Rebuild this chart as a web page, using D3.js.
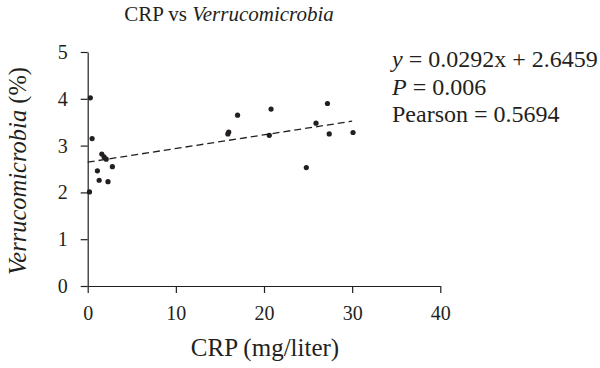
<!DOCTYPE html>
<html><head><meta charset="utf-8">
<script src="https://cdn.jsdelivr.net/npm/d3@7"></script>
<style>body{margin:0;background:#fff}svg{display:block}text{font-family:"Liberation Serif","Times New Roman",serif;fill:#231f20}</style>
</head><body><svg id="c" width="600" height="368"></svg>
<script>
const crp = [0.3, 0.5, 0.2, 1.1, 1.3, 2.3, 2.8, 1.6, 1.85, 2.1, 17.0, 16.0, 15.9, 20.8, 20.6, 24.8, 25.9, 27.2, 27.4, 30.1];
const verruco = [4.02, 3.15, 2.01, 2.46, 2.26, 2.23, 2.55, 2.82, 2.76, 2.71, 3.65, 3.29, 3.25, 3.78, 3.22, 2.53, 3.48, 3.90, 3.25, 3.28];
const xTicks = [0, 10, 20, 30, 40];
const yTicks = [0, 1, 2, 3, 4, 5];
const slope = 0.0292, intercept = 2.6459;
const fitRange = [0, 30];
const stats = ["= 0.0292x + 2.6459", "= 0.006", "Pearson = 0.5694"];

const svg = d3.select("#c");
const x = d3.scaleLinear().domain([0, 40]).range([87.7, 440.3]);
const y = d3.scaleLinear().domain([0, 5]).range([286, 52]);

const xa = svg.append("g").attr("transform", "translate(0,286)")
  .call(d3.axisBottom(x).tickValues(xTicks).tickFormat(d3.format("d")).tickSize(7).tickPadding(12).tickSizeOuter(0));
const ya = svg.append("g").attr("transform", "translate(87.7,0)")
  .call(d3.axisLeft(y).tickValues(yTicks).tickFormat(d3.format("d")).tickSize(7).tickPadding(13).tickSizeOuter(0));
[xa, ya].forEach(a => {
  a.selectAll("path,line").attr("stroke", "#231f20").attr("stroke-width", 1.2);
  a.selectAll("text").style("font-size", "20px").attr("fill", "#231f20");
});
xa.selectAll("text").attr("dy", "0.75em");

svg.append("line")
  .attr("x1", x(fitRange[0])).attr("y1", y(intercept + slope * fitRange[0]))
  .attr("x2", x(fitRange[1])).attr("y2", y(intercept + slope * fitRange[1]))
  .attr("stroke", "#231f20").attr("stroke-width", 1.3).attr("stroke-dasharray", "7,4");

svg.append("g").selectAll("circle").data(crp).join("circle")
  .attr("cx", (d) => x(d)).attr("cy", (d, i) => y(verruco[i])).attr("r", 2.6).attr("fill", "#231f20");

const t = svg.append("text").attr("x", 229).attr("y", 21).attr("text-anchor", "middle").style("font-size", "21px");
t.append("tspan").text("CRP vs ");
t.append("tspan").style("font-style", "italic").text("Verrucomicrobia");

svg.append("text").attr("x", 265).attr("y", 356).attr("text-anchor", "middle").style("font-size", "25px").text("CRP (mg/liter)");

const yl = svg.append("text").attr("transform", "translate(26,171) rotate(-90)").attr("text-anchor", "middle").style("font-size", "24.5px");
yl.append("tspan").style("font-style", "italic").text("Verrucomicrobia");
yl.append("tspan").text(" (%)");

const a1 = svg.append("text").attr("x", 392).attr("y", 67).style("font-size", "24px");
a1.append("tspan").style("font-style", "italic").text("y");
a1.append("tspan").text(" " + stats[0]);
const a2 = svg.append("text").attr("x", 392).attr("y", 95).style("font-size", "24px");
a2.append("tspan").style("font-style", "italic").text("P");
a2.append("tspan").text(" " + stats[1]);
svg.append("text").attr("x", 392).attr("y", 122).style("font-size", "24px").text(stats[2]);
</script></body></html>
